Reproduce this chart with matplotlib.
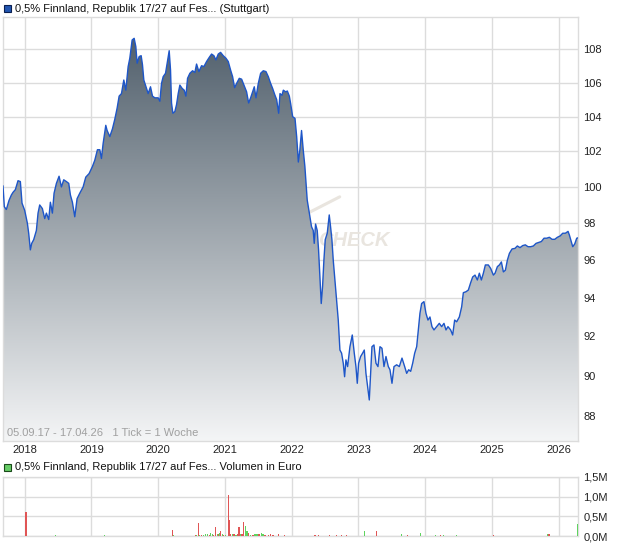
import matplotlib
matplotlib.use("Agg")
import matplotlib.pyplot as plt
import numpy as np
from matplotlib.colors import LinearSegmentedColormap
from matplotlib.patches import Rectangle

plt.rcParams['font.family'] = ['Liberation Sans', 'DejaVu Sans']

# weekly closing prices (decimal year, price)
price_dates = [
    2017.675, 2017.695, 2017.725, 2017.765, 2017.80, 2017.825, 2017.86, 2017.90, 2017.935, 2017.96,
    2018.0, 2018.04, 2018.06, 2018.085, 2018.105, 2018.135, 2018.175, 2018.2, 2018.225, 2018.265,
    2018.30, 2018.325, 2018.36, 2018.385, 2018.415, 2018.44, 2018.475, 2018.515, 2018.55, 2018.585,
    2018.625, 2018.66, 2018.685, 2018.715, 2018.75, 2018.785, 2018.825, 2018.875, 2018.915, 2018.965,
    2019.015, 2019.05, 2019.09, 2019.125, 2019.15, 2019.175, 2019.215, 2019.235, 2019.275, 2019.315,
    2019.35, 2019.385, 2019.415, 2019.45, 2019.485, 2019.515, 2019.55, 2019.575, 2019.61, 2019.64,
    2019.665, 2019.685, 2019.715, 2019.745, 2019.765, 2019.785, 2019.825, 2019.85, 2019.885, 2019.915,
    2019.95, 2020.0, 2020.025, 2020.05, 2020.075, 2020.11, 2020.135, 2020.165, 2020.185, 2020.2,
    2020.22, 2020.25, 2020.275, 2020.30, 2020.325, 2020.36, 2020.39, 2020.415, 2020.44, 2020.475,
    2020.515, 2020.55, 2020.575, 2020.61, 2020.65, 2020.685, 2020.725, 2020.765, 2020.80, 2020.835,
    2020.865, 2020.90, 2020.935, 2020.975, 2021.015, 2021.05, 2021.085, 2021.115, 2021.145, 2021.175,
    2021.215, 2021.25, 2021.285, 2021.325, 2021.355, 2021.385, 2021.415, 2021.44, 2021.465, 2021.50,
    2021.535, 2021.575, 2021.615, 2021.65, 2021.685, 2021.715, 2021.75, 2021.775, 2021.805, 2021.825,
    2021.855, 2021.875, 2021.91, 2021.935, 2021.965, 2021.985, 2022.015, 2022.05, 2022.075, 2022.10,
    2022.123, 2022.148, 2022.173, 2022.198, 2022.233, 2022.273, 2022.298, 2022.323, 2022.338, 2022.358,
    2022.383, 2022.403, 2022.423, 2022.443, 2022.463, 2022.483, 2022.503, 2022.533, 2022.563, 2022.583,
    2022.603, 2022.623, 2022.648, 2022.673, 2022.698, 2022.723, 2022.748, 2022.773, 2022.793, 2022.813,
    2022.838, 2022.873, 2022.908, 2022.938, 2022.963, 2022.983, 2023.003, 2023.033, 2023.063, 2023.088,
    2023.113, 2023.138, 2023.163, 2023.183, 2023.203, 2023.233, 2023.263, 2023.293, 2023.323, 2023.353,
    2023.383, 2023.413, 2023.448, 2023.473, 2023.503, 2023.533, 2023.573, 2023.613, 2023.653, 2023.693,
    2023.723, 2023.753, 2023.783, 2023.813, 2023.843, 2023.873, 2023.897, 2023.922, 2023.947, 2023.982,
    2024.012, 2024.042, 2024.072, 2024.102, 2024.132, 2024.172, 2024.212, 2024.247, 2024.282, 2024.312,
    2024.342, 2024.382, 2024.412, 2024.442, 2024.472, 2024.512, 2024.547, 2024.572, 2024.612, 2024.647,
    2024.682, 2024.712, 2024.747, 2024.782, 2024.812, 2024.842, 2024.872, 2024.902, 2024.947, 2024.982,
    2025.022, 2025.047, 2025.082, 2025.112, 2025.142, 2025.172, 2025.202, 2025.232, 2025.262, 2025.302,
    2025.346, 2025.381, 2025.421, 2025.461, 2025.501, 2025.541, 2025.581, 2025.621, 2025.661, 2025.701,
    2025.741, 2025.781, 2025.821, 2025.861, 2025.901, 2025.941, 2025.981, 2026.021, 2026.061, 2026.101,
    2026.141, 2026.161, 2026.181, 2026.211, 2026.241, 2026.271, 2026.29,
]
price_values = [
    100.05, 98.9, 98.75, 99.25, 99.55, 99.7, 99.85, 100.35, 100.3, 99.1,
    98.7, 98.0, 97.45, 96.55, 96.9, 97.1, 97.6, 98.55, 99.0, 98.8,
    98.25, 98.55, 98.2, 99.15, 98.55, 99.65, 100.2, 100.6, 100.0, 100.4,
    100.3, 100.2, 99.55, 99.15, 98.35, 99.35, 99.65, 100.0, 100.55, 100.75,
    101.15, 101.5, 102.1, 102.1, 101.6, 102.45, 103.5, 103.2, 102.85, 103.3,
    103.85, 104.5, 105.2, 105.35, 106.15, 105.55, 106.95, 107.45, 108.55, 108.65,
    108.15, 107.15, 107.55, 107.6, 107.05, 106.15, 105.65, 105.35, 105.75, 105.2,
    105.1, 105.1, 104.9, 105.95, 106.35, 106.55, 107.15, 107.9, 106.74, 104.8,
    104.2, 104.3, 104.7, 105.35, 105.85, 105.65, 105.55, 105.2, 106.25, 106.55,
    106.7, 106.6, 107.1, 106.65, 107.0, 106.95, 107.25, 107.5, 107.7, 107.6,
    107.35, 107.7, 107.8, 107.6, 107.45, 107.25, 106.74, 106.35, 105.7, 105.95,
    106.25, 106.2, 105.85, 105.45, 104.8, 105.1, 105.45, 105.75, 105.1, 105.95,
    106.55, 106.7, 106.65, 106.35, 105.95, 105.65, 105.25, 105.0, 104.2, 105.35,
    105.25, 105.55, 105.45, 105.5, 105.2, 104.75, 104.0, 103.9, 102.85, 101.4,
    102.1, 103.2, 102.1, 101.15, 99.27, 98.35, 97.8, 97.6, 96.9, 97.95,
    97.6, 96.55, 95.1, 93.7, 94.6, 96.0, 97.1, 97.45, 98.45, 97.8,
    97.1, 96.0, 94.94, 93.89, 92.84, 91.3, 91.14, 90.63, 89.95, 90.8,
    90.46, 91.47, 92.07, 91.14, 90.46, 89.62, 90.63, 90.97, 91.14, 91.3,
    90.12, 89.45, 88.79, 90.12, 91.47, 91.56, 90.63, 90.46, 91.47, 91.39,
    90.46, 90.97, 90.46, 90.3, 89.62, 90.46, 90.55, 90.46, 90.89, 90.46,
    90.12, 90.3, 90.22, 90.63, 91.14, 91.47, 92.33, 93.19, 93.7, 93.8,
    93.19, 92.84, 93.0, 92.5, 92.33, 92.5, 92.67, 92.5, 92.67, 92.33,
    92.5, 92.33, 92.07, 92.84, 92.75, 93.0, 93.53, 94.27, 94.32, 94.41,
    94.8, 95.1, 95.2, 94.94, 95.3, 94.94, 95.3, 95.74, 95.74, 95.55,
    95.2, 95.3, 95.65, 95.74, 95.9, 95.37, 95.46, 96.0, 96.36, 96.6,
    96.63, 96.76, 96.67, 96.78, 96.82, 96.72, 96.72, 96.76, 96.9, 96.95,
    97.0, 97.18, 97.18, 97.23, 97.12, 97.12, 97.23, 97.3, 97.45, 97.45,
    97.55, 97.35, 97.1, 96.72, 96.87, 97.18, 97.2,
]

# volume bars (decimal year, euro in millions, up=True green / False red)
vol_dates = [
    2018.02, 2018.465, 2019.01, 2019.2, 2019.565, 2020.09, 2020.21, 2020.225, 2020.56, 2020.58,
    2020.6, 2020.625, 2020.65, 2020.685, 2020.715, 2020.735, 2020.765, 2020.785, 2020.81, 2020.83,
    2020.865, 2020.885, 2020.905, 2020.925, 2020.94, 2020.96, 2020.985, 2021.01, 2021.05, 2021.065,
    2021.085, 2021.11, 2021.135, 2021.165, 2021.185, 2021.21, 2021.235, 2021.255, 2021.28, 2021.31,
    2021.33, 2021.35, 2021.385, 2021.42, 2021.45, 2021.48, 2021.51, 2021.55, 2021.57, 2021.6,
    2021.655, 2021.685, 2021.72, 2021.8, 2021.89, 2022.35, 2022.4, 2022.57, 2022.67, 2022.75,
    2022.82, 2023.09, 2023.27, 2023.31, 2023.37, 2023.64, 2023.73, 2023.93, 2024.15, 2024.23,
    2024.27, 2024.47, 2024.66, 2025.02, 2025.24, 2025.84, 2025.855, 2026.28,
]
vol_values = [
    0.60, 0.02, 0.01, 0.03, 0.01, 0.01, 0.16, 0.02, 0.03, 0.03,
    0.34, 0.02, 0.03, 0.03, 0.05, 0.06, 0.02, 0.07, 0.04, 0.03,
    0.24, 0.04, 0.05, 0.08, 0.12, 0.06, 0.03, 0.03, 1.03, 0.41,
    0.05, 0.04, 0.05, 0.02, 0.05, 0.22, 0.06, 0.05, 0.35, 0.26,
    0.12, 0.07, 0.03, 0.02, 0.04, 0.04, 0.04, 0.08, 0.05, 0.03,
    0.03, 0.04, 0.03, 0.06, 0.02, 0.015, 0.015, 0.015, 0.015, 0.015,
    0.015, 0.12, 0.12, 0.01, 0.01, 0.04, 0.02, 0.07, 0.03, 0.02,
    0.02, 0.03, 0.01, 0.03, 0.01, 0.05, 0.06, 0.30,
]
vol_up = [
    False, True, True, True, True, False, False, True, False, True,
    False, True, False, True, True, True, False, True, True, False,
    False, True, False, True, False, True, False, True, False, False,
    False, True, False, True, False, False, True, False, False, True,
    True, False, True, False, True, True, False, True, True, False,
    False, False, False, False, False, False, False, False, False, False,
    False, True, False, True, False, True, False, True, True, False,
    True, True, False, False, True, True, False, True,
]

years = list(range(2018, 2027))
price_ticks = list(range(88, 109, 2))
vol_ticks = [0, 0.5, 1.0, 1.5]
vol_labels = ["0,0M", "0,5M", "1,0M", "1,5M"]

x0, x1 = 2017.675, 2026.29
ylo, yhi = 86.78, 109.95
grid_c = "#dcdcdc"

fig = plt.figure(figsize=(6.2, 5.46), dpi=100)
ax = fig.add_axes([3 / 620, 1 - 441 / 546, 575 / 620, 424 / 546])
axv = fig.add_axes([3 / 620, 1 - 536 / 546, 575 / 620, 59 / 546])

# --- price chart ---
ax.set_yscale("log")
ax.set_xlim(x0, x1)
ax.set_ylim(ylo, yhi)

# watermark, sits behind the area
ax.text(2022.93, 97.08, "CHECK", fontsize=14.5, fontweight="bold", style="italic",
        color="#e9e5df", ha="center", va="center", zorder=1)
ax.plot([2022.27, 2022.72], [98.6, 99.45], color="#e9e5df", lw=2.2, zorder=1,
        solid_capstyle="round")

area = ax.fill_between(price_dates, price_values, ylo, color="none", zorder=2)
cmap = LinearSegmentedColormap.from_list("g", ["#f4f5f6", "#4a5966"])
grad = np.linspace(0, 1, 256).reshape(-1, 1)
img = ax.imshow(grad, cmap=cmap, extent=(0, 1, 0, 1), transform=ax.transAxes,
                origin="lower", aspect="auto", zorder=2, interpolation="bilinear")
img.set_clip_path(area.get_paths()[0], ax.transData)
ax.plot(price_dates, price_values, color="#1e56c8", lw=1.0, zorder=3)
ax.set_xlim(x0, x1)
ax.set_ylim(ylo, yhi)

ax.set_xticks(years)
ax.set_xticklabels([str(y) for y in years])
ax.set_yticks(price_ticks)
ax.set_yticklabels([str(v) for v in price_ticks])
ax.yaxis.set_minor_locator(matplotlib.ticker.NullLocator())
ax.yaxis.tick_right()
ax.tick_params(axis="both", length=0, labelsize=8, colors="#222222")
ax.tick_params(axis="y", pad=4)
ax.tick_params(axis="x", pad=3)
ax.grid(True, color=grid_c, lw=1, zorder=0)
ax.set_axisbelow(True)
for s in ax.spines.values():
    s.set_color(grid_c)
    s.set_linewidth(1)
ax.text(0.007, 0.006, "05.09.17 - 17.04.26   1 Tick = 1 Woche", transform=ax.transAxes,
        fontsize=8, color="#a0a0a0", ha="left", va="bottom", zorder=5)

# --- volume chart ---
colors = ["#5fd35f" if u else "#e05555" for u in vol_up]
axv.bar(vol_dates, vol_values, width=0.017, color=colors, lw=0, zorder=3)
axv.set_xlim(x0, x1)
axv.set_ylim(0, 1.5)
axv.set_xticks(years)
axv.set_xticklabels([])
axv.set_yticks(vol_ticks)
axv.set_yticklabels(vol_labels)
axv.yaxis.tick_right()
axv.tick_params(axis="both", length=0, labelsize=8, colors="#222222")
axv.tick_params(axis="y", pad=4)
axv.grid(True, color=grid_c, lw=1, zorder=0)
axv.set_axisbelow(True)
for s in axv.spines.values():
    s.set_color(grid_c)
    s.set_linewidth(1)

# legend-like headers
fig.patches.append(Rectangle((4 / 620, 1 - 12 / 546), 7 / 620, 7 / 546, transform=fig.transFigure,
                             facecolor="#2255b0", edgecolor="#0a1f50", lw=0.8))
fig.text(15 / 620, 1 - 8.5 / 546, "0,5% Finnland, Republik 17/27 auf Fes... (Stuttgart)",
         fontsize=8, color="#111111", ha="left", va="center")
fig.patches.append(Rectangle((4 / 620, 1 - 471 / 546), 7 / 620, 7 / 546, transform=fig.transFigure,
                             facecolor="#66cc66", edgecolor="#1a4a1a", lw=0.8))
fig.text(15 / 620, 1 - 467.5 / 546, "0,5% Finnland, Republik 17/27 auf Fes... Volumen in Euro",
         fontsize=8, color="#111111", ha="left", va="center")

fig.savefig("out.png", dpi=100)
